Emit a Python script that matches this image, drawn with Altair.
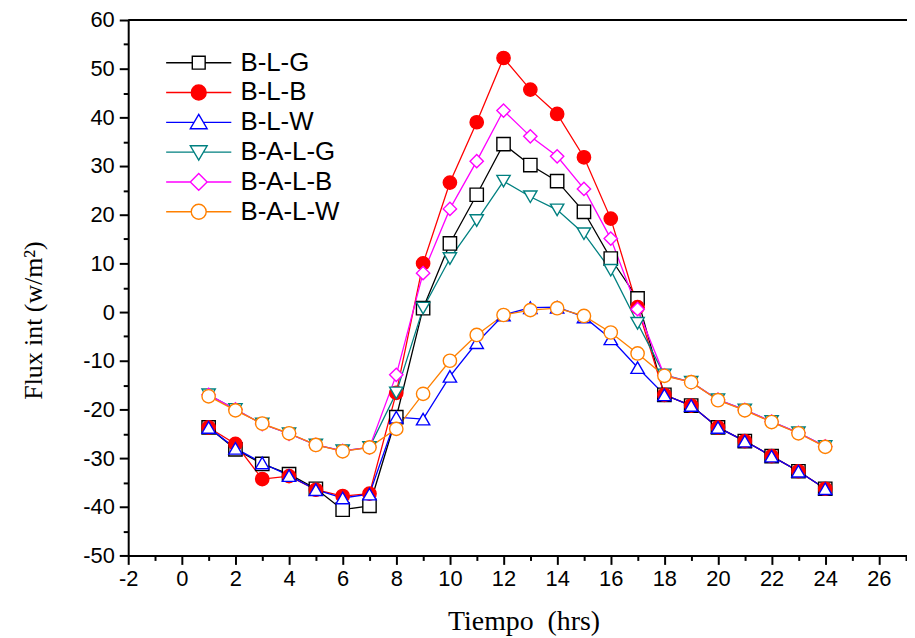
import altair as alt
import pandas as pd

hours = list(range(1, 25))
series_names = ["B-L-G", "B-L-B", "B-L-W", "B-A-L-G", "B-A-L-B", "B-A-L-W"]
colors = ["#000000", "#FF0000", "#0000FF", "#008080", "#FF00FF", "#FF8000"]
fills = ["#FFFFFF", "#FF0000", "#FFFFFF", "#FFFFFF", "#FFFFFF", "#FFFFFF"]
shapes = ["square", "circle", "triangle-up", "triangle-down", "diamond", "circle"]

blg = [-23.7, -28.2, -31.2, -33.3, -36.3, -40.6, -39.8, -21.6, 0.8, 14.1, 24.1, 34.5,
       30.2, 26.9, 20.6, 11.0, 2.8, -17.0, -19.2, -23.7, -26.5, -29.6, -32.7, -36.3]
blb = [-23.7, -27.1, -34.3, -33.7, -36.5, -37.8, -37.3, -16.6, 10.0, 26.6, 39.0, 52.2,
       45.7, 40.7, 31.8, 19.2, 1.0, -17.0, -19.2, -23.7, -26.5, -29.6, -32.7, -36.3]
blw = [-23.7, -28.0, -31.0, -33.6, -36.5, -38.2, -37.4, -21.6, -22.0, -13.2, -6.3, -0.6,
       0.9, 1.0, -1.0, -5.5, -11.4, -17.0, -19.2, -23.7, -26.5, -29.6, -32.7, -36.3]
balg = [-17.0, -20.0, -23.0, -25.0, -27.3, -28.5, -27.8, -16.6, 0.8, 11.0, 18.8, 26.9,
        23.7, 21.0, 16.1, 8.6, -2.3, -12.9, -14.4, -18.0, -20.1, -22.5, -24.8, -27.6]
balb = [-17.0, -20.0, -23.0, -25.0, -27.3, -28.5, -27.8, -12.9, 8.0, 21.2, 31.0, 41.4,
        36.1, 32.0, 25.3, 15.1, 0.6, -13.0, -14.4, -18.0, -20.1, -22.5, -24.8, -27.6]
balw = [-17.3, -20.2, -22.9, -24.9, -27.3, -28.6, -27.8, -24.0, -16.8, -10.0, -4.7, -0.6,
        0.4, 0.8, -0.8, -4.2, -8.5, -13.1, -14.4, -18.1, -20.2, -22.6, -24.9, -27.7]

x_ticks = list(range(-2, 28))
y_ticks = list(range(-50, 61, 5))

all_values = [blg, blb, blw, balg, balb, balw]
rows = []
for name, vals in zip(series_names, all_values):
    for h, v in zip(hours, vals):
        rows.append({"series": name, "hour": h, "flux": v})
df = pd.DataFrame(rows)

# legend symbols: line segment with a marker (custom SVG paths, unit = sqrt(size)/2)
L = 4.1
legend_paths = [
    f"M-{L},0H-0.81M0.81,0H{L}M-0.81,-0.81H0.81V0.81H-0.81Z",
    f"M-{L},0H-0.94M0.94,0H{L}M-0.94,0A0.94,0.94,0,1,0,0.94,0A0.94,0.94,0,1,0,-0.94,0Z",
    f"M-{L},0H-0.59M0.59,0H{L}M0,-1.0L1.06,0.8H-1.06Z",
    f"M-{L},0H-0.59M0.59,0H{L}M0,1.0L1.06,-0.8H-1.06Z",
    f"M-{L},0H-1.06M1.06,0H{L}M-1.06,0L0,-1.06L1.06,0L0,1.06Z",
    f"M-{L},0H-0.94M0.94,0H{L}M-0.94,0A0.94,0.94,0,1,0,0.94,0A0.94,0.94,0,1,0,-0.94,0Z",
]

x_enc = alt.X(
    "hour:Q",
    scale=alt.Scale(domain=[-2, 27.05], nice=False, zero=False),
    axis=alt.Axis(
        values=x_ticks,
        labelExpr="datum.value % 2 == 0 ? '' + datum.value : ''",
        tickSize={"condition": {"test": "datum.value % 2 == 0", "value": 9}, "value": 5},
        title="Tiempo \u00a0(hrs)",
        titleFont="Liberation Serif",
        titleFontSize=28,
        titleFontWeight="normal",
        titleColor="#000000",
        titlePadding=19,
        titleX=398,
        labelFont="Liberation Sans",
        labelFontSize=22,
        labelColor="#000000",
        labelPadding=4,
        labelOverlap=False,
        labelFlush=False,
        grid=False,
        domainColor="#000000",
        domainWidth=2,
        tickColor="#000000",
        tickWidth=2,
    ),
)
y_enc = alt.Y(
    "flux:Q",
    scale=alt.Scale(domain=[-50, 60], nice=False, zero=False),
    axis=alt.Axis(
        values=y_ticks,
        labelExpr="datum.value % 10 == 0 ? '' + datum.value : ''",
        tickSize={"condition": {"test": "datum.value % 10 == 0", "value": 9}, "value": 5},
        title="Flux int (w/m²)",
        titleFont="Liberation Serif",
        titleFontSize=26,
        titleFontWeight="normal",
        titleColor="#000000",
        titlePadding=36,
        titleY=302,
        labelFont="Liberation Sans",
        labelFontSize=22,
        labelColor="#000000",
        labelPadding=5,
        labelOverlap=False,
        labelFlush=False,
        grid=False,
        domainColor="#000000",
        domainWidth=2,
        tickColor="#000000",
        tickWidth=2,
    ),
)

base = alt.Chart(df)

lines = base.mark_line(strokeWidth=1.3).encode(
    x=x_enc,
    y=y_enc,
    stroke=alt.Stroke("series:N", scale=alt.Scale(domain=series_names, range=colors), legend=None),
)

points = base.mark_point(filled=True, size=180, strokeWidth=1.4, opacity=1).encode(
    x=x_enc,
    y=y_enc,
    stroke=alt.Stroke("series:N", scale=alt.Scale(domain=series_names, range=colors), legend=None),
    fill=alt.Fill("series:N", scale=alt.Scale(domain=series_names, range=fills), legend=None),
    shape=alt.Shape("series:N", scale=alt.Scale(domain=series_names, range=shapes), legend=None),
)

leg = alt.Legend(
    title=None,
    orient="none",
    legendX=58,
    legendY=30,
    padding=0,
    symbolSize=256,
    symbolStrokeWidth=1.4,
    symbolOpacity=1,
    labelFont="Liberation Sans",
    labelFontSize=26,
    labelColor="#000000",
    labelOffset=29,
    labelLimit=300,
    rowPadding=4,
)

legend_layer = base.mark_point(filled=True, opacity=0).encode(
    x=x_enc,
    y=y_enc,
    stroke=alt.Stroke("series:N", scale=alt.Scale(domain=series_names, range=colors), legend=leg),
    fill=alt.Fill("series:N", scale=alt.Scale(domain=series_names, range=fills), legend=leg),
    shape=alt.Shape("series:N", scale=alt.Scale(domain=series_names, range=legend_paths), legend=leg),
)

top_rule = alt.Chart(pd.DataFrame({"flux": [60]})).mark_rule(color="#000000", strokeWidth=2).encode(
    y=y_enc
)

chart = (
    alt.layer(top_rule, lines, points, legend_layer)
    .resolve_scale(stroke="independent", fill="independent", shape="independent")
    .properties(
        width=784,
        height=539,
        autosize="none",
        padding={"left": 121, "top": 10, "right": 0, "bottom": 80},
        background="#FFFFFF",
    )
    .configure_view(stroke=None)
)

chart.save("out.html", embed_options={"renderer": "svg", "actions": False})
